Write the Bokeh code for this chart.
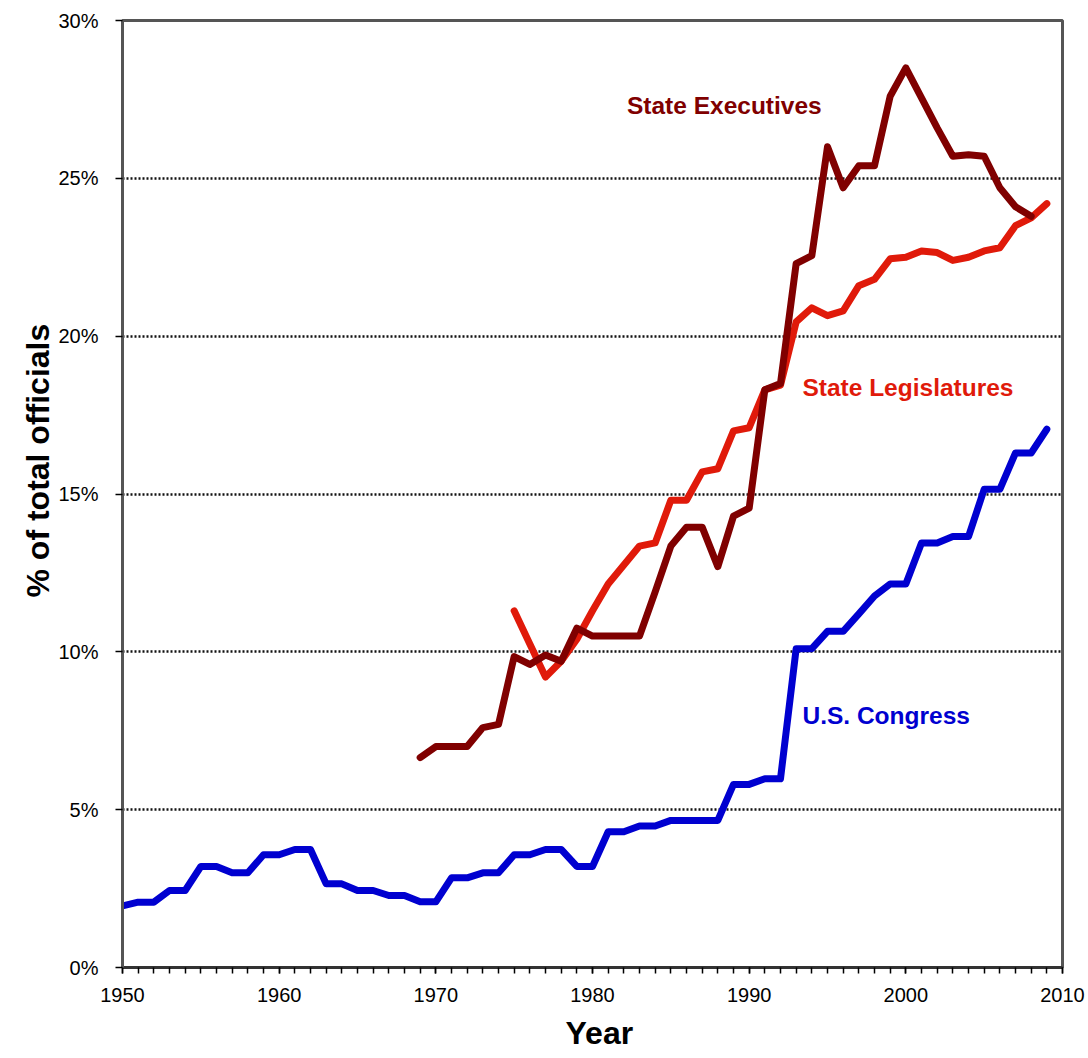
from bokeh.plotting import figure
from bokeh.models import Range1d, Label, FixedTicker, Title
from bokeh.embed import file_html
from bokeh.resources import INLINE

# ---------------- data ----------------
congress_years = list(range(1950, 2010))
congress = [1.95, 2.07, 2.07, 2.44, 2.44, 3.20, 3.20, 3.00, 3.00, 3.57,
            3.57, 3.74, 3.74, 2.65, 2.65, 2.44, 2.44, 2.28, 2.28, 2.08,
            2.08, 2.84, 2.84, 3.00, 3.00, 3.57, 3.57, 3.74, 3.74, 3.20,
            3.20, 4.30, 4.30, 4.48, 4.48, 4.66, 4.66, 4.66, 4.66, 5.80,
            5.80, 5.98, 5.98, 10.10, 10.10, 10.65, 10.65, 11.20, 11.77, 12.15,
            12.15, 13.45, 13.45, 13.65, 13.65, 15.15, 15.15, 16.30, 16.30, 17.05]

executive_years = list(range(1969, 2009))
executives = [6.65, 7.00, 7.00, 7.00, 7.60, 7.70, 9.85, 9.60, 9.90, 9.70,
              10.75, 10.50, 10.50, 10.50, 10.50, 11.90, 13.35, 13.95, 13.95, 12.70,
              14.30, 14.55, 18.30, 18.50, 22.30, 22.55, 26.00, 24.70, 25.40, 25.40,
              27.60, 28.50, 27.55, 26.60, 25.70, 25.75, 25.70, 24.70, 24.10, 23.80]

legislature_years = list(range(1975, 2010))
legislatures = [11.30, 10.25, 9.20, 9.70, 10.40, 11.30, 12.15, 12.75, 13.35, 13.45,
                14.80, 14.80, 15.70, 15.80, 17.00, 17.10, 18.30, 18.45, 20.45, 20.90,
                20.65, 20.80, 21.60, 21.80, 22.45, 22.50, 22.70, 22.65, 22.40, 22.50,
                22.70, 22.80, 23.50, 23.75, 24.20]

x_ticks = [1950, 1960, 1970, 1980, 1990, 2000, 2010]
x_tick_labels = ["1950", "1960", "1970", "1980", "1990", "2000", "2010"]
y_ticks = [0, 5, 10, 15, 20, 25, 30]
y_tick_labels = ["0%", "5%", "10%", "15%", "20%", "25%", "30%"]

series_names = ["U.S. Congress", "State Legislatures", "State Executives"]
series_colors = ["#0000d0", "#e01a0a", "#800000"]

FONT = "Liberation Sans"

# ---------------- figure ----------------
p = figure(width=1088, height=1058, output_backend="svg", toolbar_location=None,
           x_range=Range1d(1950, 2010), y_range=Range1d(0, 30),
           min_border_left=122, min_border_right=26,
           min_border_top=20, min_border_bottom=91)
p.background_fill_color = "white"
p.border_fill_color = "white"
p.outline_line_color = "#555555"
p.outline_line_width = 3

# grid
p.xgrid.grid_line_color = None
p.ygrid.ticker = FixedTicker(ticks=y_ticks)
p.ygrid.grid_line_color = "#111111"
p.ygrid.grid_line_dash = "2 2"
p.ygrid.grid_line_width = 2.5

# x axis
p.xaxis.ticker = FixedTicker(ticks=x_ticks,
                             minor_ticks=list(range(x_ticks[0], x_ticks[-1] + 1)))
p.xaxis.major_label_overrides = dict(zip(x_ticks, x_tick_labels))
p.xaxis.axis_line_color = "#333333"
p.xaxis.axis_line_width = 3
p.xaxis.major_tick_in = 0
p.xaxis.major_tick_out = 6
p.xaxis.minor_tick_in = 0
p.xaxis.minor_tick_out = 6
p.xaxis.major_tick_line_color = "black"
p.xaxis.minor_tick_line_color = "black"
p.xaxis.major_tick_line_width = 1.5
p.xaxis.minor_tick_line_width = 1.5
p.xaxis.major_label_standoff = 14
p.xaxis.major_label_text_font = FONT
p.xaxis.major_label_text_font_size = "20px"
p.xaxis.major_label_text_color = "black"

# y axis
p.yaxis.ticker = FixedTicker(ticks=y_ticks)
p.yaxis.major_label_overrides = dict(zip(y_ticks, y_tick_labels))
p.yaxis.axis_line_color = "#555555"
p.yaxis.axis_line_width = 3
p.yaxis.major_tick_in = 0
p.yaxis.major_tick_out = 7
p.yaxis.major_tick_line_color = "black"
p.yaxis.major_tick_line_width = 1.5
p.yaxis.minor_tick_line_color = None
p.yaxis.major_label_standoff = 17
p.yaxis.major_label_text_font = FONT
p.yaxis.major_label_text_font_size = "20px"
p.yaxis.major_label_text_color = "black"

# lines
p.line(congress_years, congress, line_color=series_colors[0], line_width=7,
       line_join="round", line_cap="round")
p.line(legislature_years, legislatures, line_color=series_colors[1], line_width=7,
       line_join="round", line_cap="round")
p.line(executive_years, executives, line_color=series_colors[2], line_width=7,
       line_join="round", line_cap="round")

# series labels
for name, color, (lx, ly) in zip(series_names, series_colors,
                                 [(1993.4, 7.98), (1993.4, 18.37), (1982.2, 27.3)]):
    p.add_layout(Label(x=lx, y=ly, text=name, text_color=color,
                       text_font=FONT, text_font_style="bold",
                       text_font_size="24.5px", text_align="left",
                       text_baseline="alphabetic"))

# axis titles
p.add_layout(Title(text="Year", align="left", offset=443, standoff=16,
                   text_line_height=0.8,
                   text_color="black", text_font=FONT, text_font_style="bold",
                   text_font_size="32px"), "below")
p.add_layout(Title(text="% of total officials", align="left", offset=370, standoff=0,
                   text_color="black", text_font=FONT, text_font_style="bold",
                   text_font_size="32px"), "left")

open("out.html", "w").write(file_html(p, INLINE))
